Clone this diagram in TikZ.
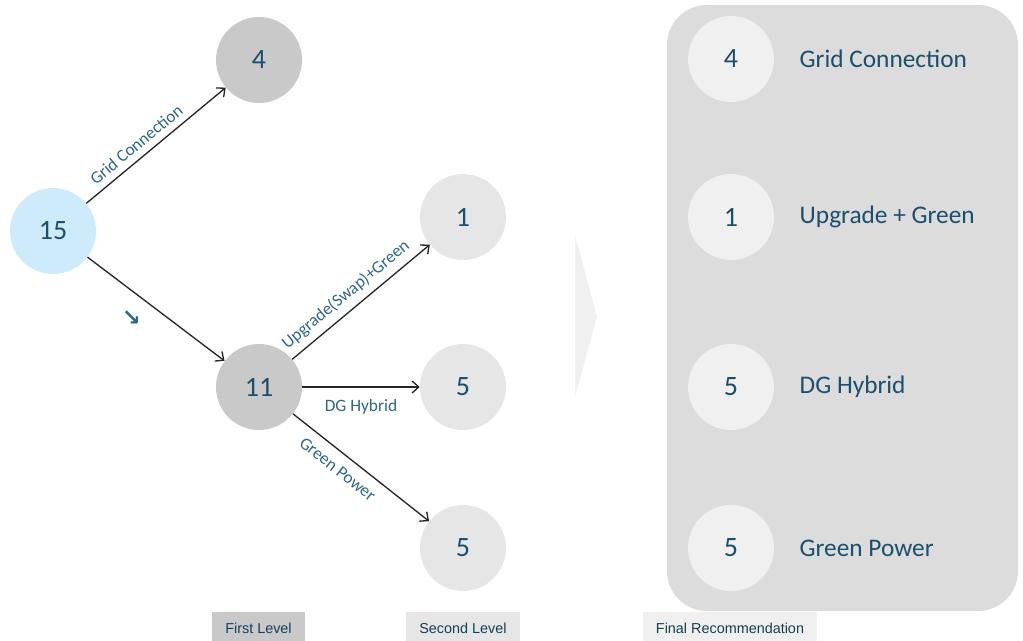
\documentclass[tikz,border=0pt]{standalone}
\usepackage{fontspec}
\usetikzlibrary{arrows.meta}
\setmainfont{Carlito}
\newfontfamily\tagfont{Liberation Sans}
\newfontfamily\symfont{DejaVu Sans}
\definecolor{numblue}{HTML}{1B4F6E}
\definecolor{lblblue}{HTML}{2D6888}
\definecolor{rootblue}{HTML}{CDEBFB}
\definecolor{midgray}{HTML}{C9C9C9}
\definecolor{leafgray}{HTML}{E6E6E6}
\definecolor{panelgray}{HTML}{DCDCDC}
\definecolor{softgray}{HTML}{F0F0F0}
\tikzset{
  bubble/.style={circle, minimum size=64.5pt, inner sep=0pt, text=numblue,
    font=\fontsize{21}{25}\selectfont},
  arr/.style={-{Straight Barb[length=5pt,width=9pt]}, black!85, line width=1pt},
  elabel/.style={text=lblblue, font=\fontsize{13}{16}\selectfont, inner sep=5pt},
  ptext/.style={anchor=west, text=numblue, font=\fontsize{19}{23}\selectfont},
  tagbox/.style={minimum height=24pt, inner sep=0pt, text=numblue!80!black,
    font=\tagfont\fontsize{10.8}{13}\selectfont},
}
\begin{document}
\begin{tikzpicture}[x=0.75pt, y=-0.75pt]
  \useasboundingbox (0,0) rectangle (1023,641);

  % tree
  \node[bubble, fill=rootblue] (n15) at (53,231) {15};
  \node[bubble, fill=midgray] (n4) at (259,60) {4};
  \node[bubble, fill=midgray] (n11) at (259,387) {11};
  \node[bubble, fill=leafgray] (n1) at (463,217) {1};
  \node[bubble, fill=leafgray] (n5a) at (463,387) {5};
  \node[bubble, fill=leafgray] (n5b) at (463,548) {5};

  % branches
  \draw[arr] (n15) -- node[below=15pt, pos=0.32, inner sep=0pt, text=lblblue,
      font=\symfont\bfseries\fontsize{17}{19}\selectfont] {↘} (n11);
  \draw[arr] (n15) -- node[sloped, above, pos=0.42, elabel] {Grid Connection} (n4);
  \draw[arr] (n11) -- node[sloped, above, pos=0.46, elabel] {Upgrade(Swap)+Green} (n1);
  \draw[arr] (n11) -- node[below=4pt, pos=0.5, elabel] {DG Hybrid} (n5a);
  \draw[arr] (n11) -- node[sloped, below, pos=0.4, elabel, inner sep=7pt] {Green Power} (n5b);

  % chevron
  \fill[softgray] (575,235) -- (597,317) -- (575,397) -- cycle;

  % final recommendation panel
  \fill[panelgray, rounded corners=30pt] (667,5) rectangle (1018,611);
  \foreach \y/\n/\t/\name in {59/4/Grid Connection/r1, 217/1/Upgrade + Green/r2,
      387/5/DG Hybrid/r3, 548/5/Green Power/r4} {
    \node[bubble, fill=softgray] (\name) at (731,\y) {\n};
    \node[ptext] (\name t) at (795,\y) {\t};
  }

  % levels
  \node[tagbox, fill=midgray, minimum width=69.75pt] (lv1) at (258.5,628) {First Level};
  \node[tagbox, fill=leafgray, minimum width=85.5pt] (lv2) at (463,628) {Second Level};
  \node[tagbox, fill=softgray, minimum width=131pt] (lv3) at (730,628) {Final Recommendation};
\end{tikzpicture}
\end{document}
